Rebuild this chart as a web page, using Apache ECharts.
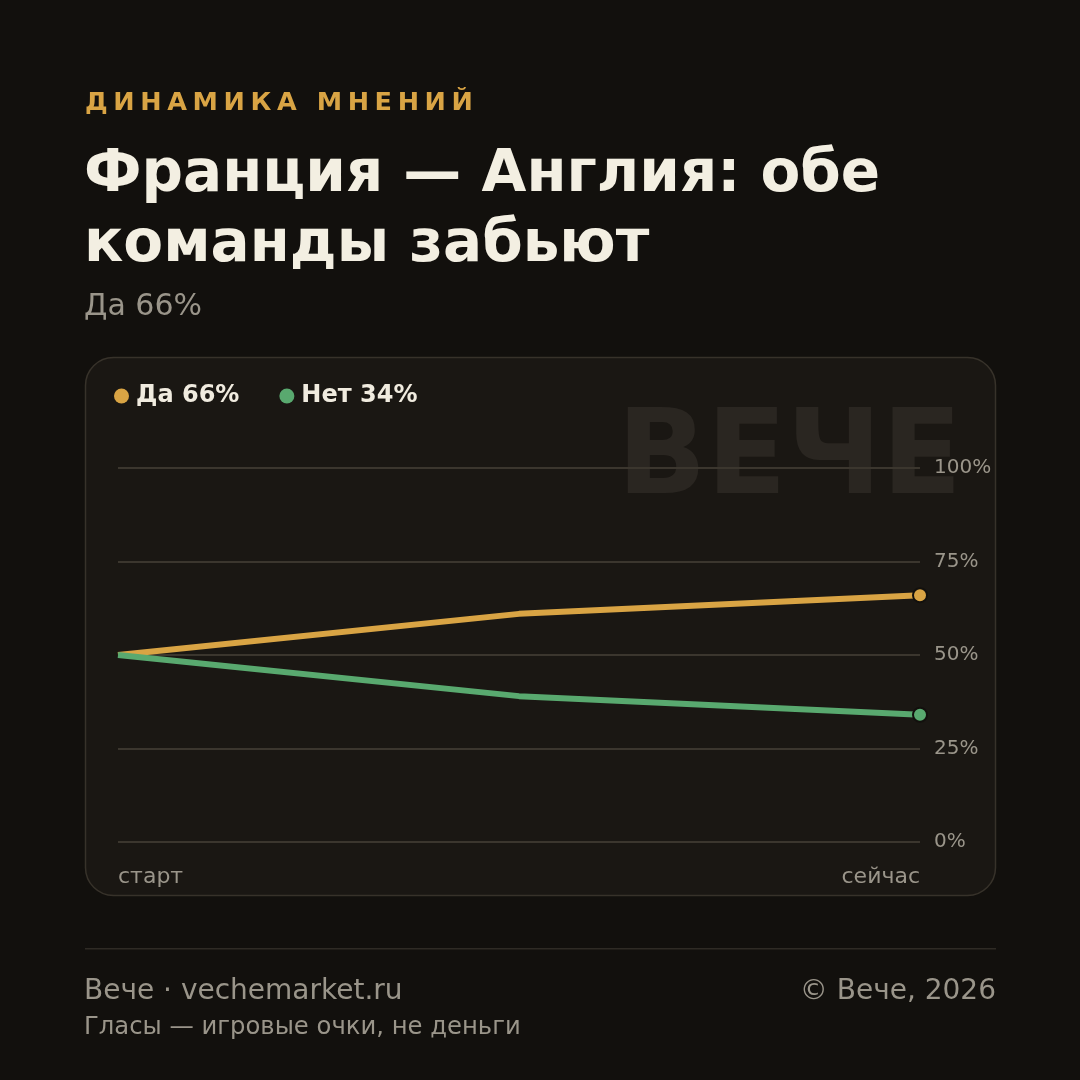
<!DOCTYPE html>
<html><head><meta charset="utf-8">
<script src="https://cdn.jsdelivr.net/npm/echarts@6/dist/echarts.min.js"></script>
<style>
html,body{margin:0;padding:0;background:#12100d;}
#c{width:1080px;height:1080px;position:absolute;left:0;top:0;}
#kicker{position:absolute;left:85px;top:88px;font:bold 25.5px "DejaVu Sans",sans-serif;line-height:26px;letter-spacing:5.6px;color:#d9a444;white-space:nowrap;z-index:2;}
</style>
</head><body><div id="c"></div><div id="kicker">ДИНАМИКА МНЕНИЙ</div>
<script>
const categories = ['старт', '', 'сейчас'];
const yesValues = [50, 61, 66];
const noValues = [50, 39, 34];
const seriesNames = ['Да 66%', 'Нет 34%'];
const yTicks = [0, 25, 50, 75, 100];

const FONT = '"DejaVu Sans", sans-serif';
const chart = echarts.init(document.getElementById('c'), null, {renderer: 'canvas'});

function withEndMarker(vals, color) {
  return vals.map((v, i) => i === vals.length - 1
    ? {value: v, symbol: 'circle', symbolSize: 14, itemStyle: {color: color, borderColor: '#12100d', borderWidth: 2}}
    : {value: v, symbol: 'none'});
}
// place text so its baseline sits at `base`
function txt(text, x, base, size, weight, color, align) {
  return {type: 'text', style: {text: text, x: x, y: base - 0.8 * size, align: align || 'left', verticalAlign: 'top',
    font: (weight ? weight + ' ' : '') + size + 'px ' + FONT, fill: color}};
}

chart.setOption({
  backgroundColor: '#12100d',
  animation: false,
  textStyle: {fontFamily: FONT},
  grid: {left: 118, right: 160, top: 468, bottom: 238, containLabel: false},
  legend: {
    left: 109, top: 379, icon: 'circle', itemWidth: 15, itemHeight: 15, itemGap: 40,
    textStyle: {color: '#f0ebdf', fontSize: 24, fontWeight: 'bold', fontFamily: FONT, padding: [0, 0, 0, 2]},
    data: [{name: seriesNames[0], itemStyle: {color: '#d9a444'}}, {name: seriesNames[1], itemStyle: {color: '#59a96f'}}]
  },
  xAxis: {
    type: 'category', data: categories, boundaryGap: false,
    axisLine: {show: false}, axisTick: {show: false},
    axisLabel: {color: '#9a958a', fontSize: 22, margin: 24, interval: 0, fontFamily: FONT,
      alignMinLabel: 'left', alignMaxLabel: 'right'}
  },
  yAxis: {
    type: 'value', position: 'right', min: 0, max: 100, interval: 25,
    axisLine: {show: false}, axisTick: {show: false},
    splitLine: {lineStyle: {color: '#3b362e', width: 2}},
    axisLabel: {color: '#9a958a', fontSize: 20, margin: 14, fontFamily: FONT, formatter: v => yTicks.includes(v) ? v + '%' : ''}
  },
  series: [
    {name: seriesNames[0], type: 'line', data: withEndMarker(yesValues, '#d9a444'),
      lineStyle: {color: '#d9a444', width: 6}, itemStyle: {color: '#d9a444'}, z: 3},
    {name: seriesNames[1], type: 'line', data: withEndMarker(noValues, '#59a96f'),
      lineStyle: {color: '#59a96f', width: 6}, itemStyle: {color: '#59a96f'}, z: 3}
  ],
  graphic: [
    {type: 'rect', z: -10, shape: {x: 85.5, y: 357.5, width: 910, height: 538, r: 28},
      style: {fill: '#1a1713', stroke: '#37322a', lineWidth: 1.5}},
    Object.assign(txt('ВЕЧЕ', 962, 497, 117.5, 'bold', '#2a2621', 'right'), {z: -5}),
    txt('Франция — Англия: обе', 84, 193, 58, 'bold', '#f3efe2'),
    txt('команды забьют', 84, 263, 58, 'bold', '#f3efe2'),
    txt('Да 66%', 84, 316, 30, '', '#9a958a'),
    {type: 'rect', shape: {x: 85, y: 948, width: 911, height: 1.5}, style: {fill: '#2f2b25'}},
    txt('Вече · vechemarket.ru', 84, 1000, 28, '', '#9a958a'),
    txt('© Вече, 2026', 996, 1000, 28, '', '#9a958a', 'right'),
    txt('Гласы — игровые очки, не деньги', 84, 1035, 24.3, '', '#9a958a')
  ]
});
</script></body></html>
